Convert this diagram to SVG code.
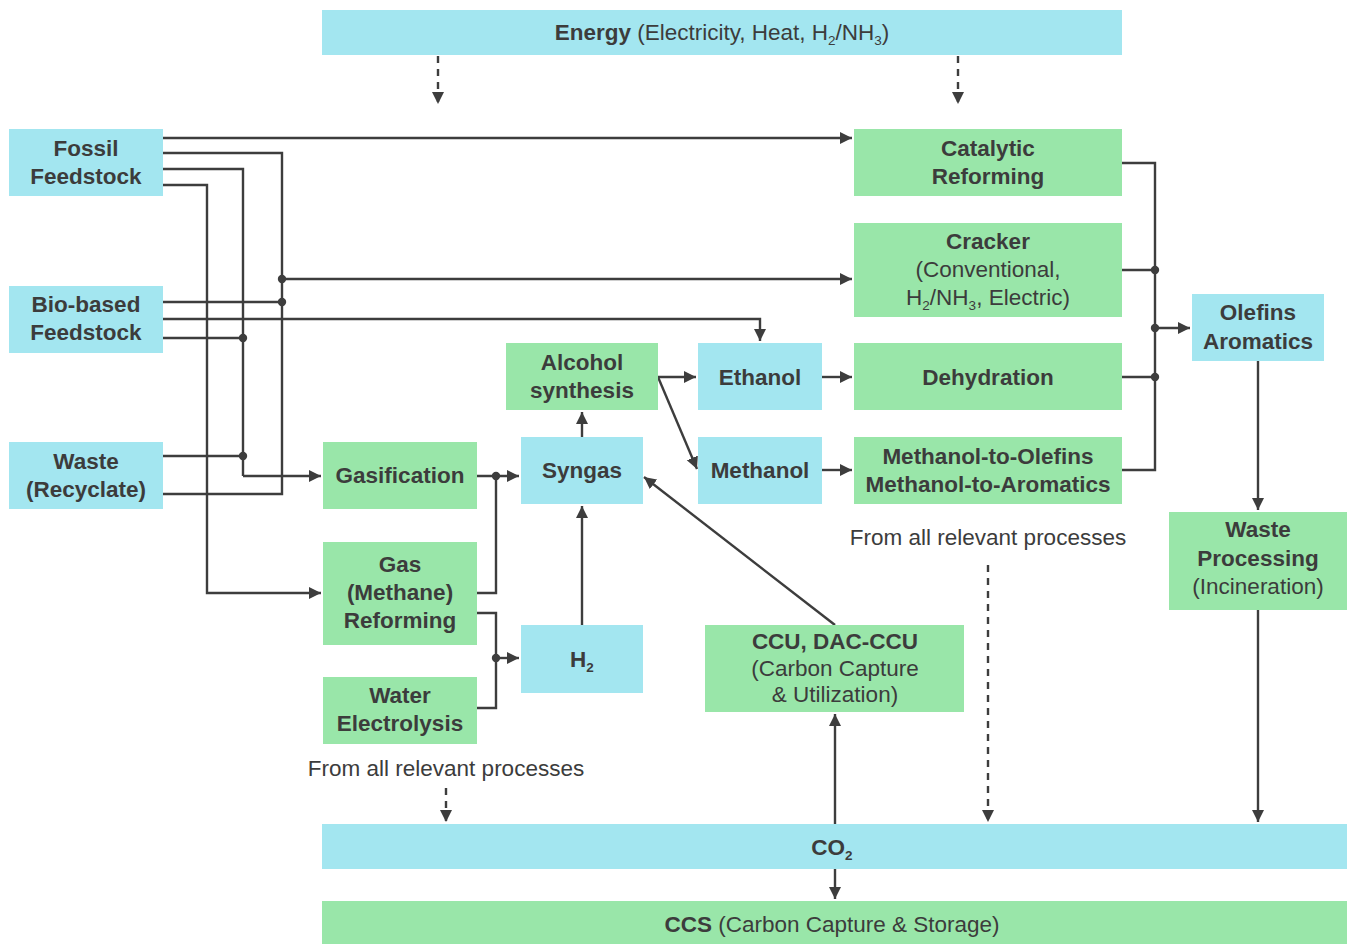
<svg xmlns="http://www.w3.org/2000/svg" width="1349" height="944" viewBox="0 0 1349 944">
<defs>
<marker id="ah" markerUnits="userSpaceOnUse" markerWidth="14" markerHeight="14" refX="12" refY="7" orient="auto"><path d="M0,1 L12,7 L0,13 z" fill="#3d3d3d"/></marker>
<style>
.c{fill:#a3e6f0}.g{fill:#99e6a9}
text{font-family:"Liberation Sans",Arial,sans-serif;fill:#3c3c3c;font-size:22.5px;text-anchor:middle}
.b{font-weight:bold}
.ln{fill:none;stroke:#3d3d3d;stroke-width:2.4}
.ar{marker-end:url(#ah)}
.ds{stroke-dasharray:7,6}
.dot{fill:#3d3d3d}
.sub{font-size:13.5px}
</style>
</defs>
<g id="connectors">
<path class="ln ar" d="M163,138 H852"/>
<path class="ln" d="M163,153 H282 V494 H163"/>
<path class="ln" d="M163,302 H282"/>
<path class="ln ar" d="M282,279 H852"/>
<path class="ln" d="M163,169 H243 V476"/>
<path class="ln" d="M163,338 H243"/>
<path class="ln" d="M163,456 H243"/>
<path class="ln ar" d="M243,476 H321"/>
<path class="ln ar" d="M163,185 H207 V593 H321"/>
<path class="ln ar" d="M163,319 H760 V341"/>
<path class="ln ar" d="M477,476 H519"/>
<path class="ln" d="M477,593 H496 V476"/>
<path class="ln" d="M477,613 H496 V708 H477"/>
<path class="ln ar" d="M496,658 H519"/>
<path class="ln ar" d="M582,625 V506"/>
<path class="ln ar" d="M582,437 V412"/>
<path class="ln ar" d="M658,377 H696"/>
<path class="ln ar" d="M658,377 L697,469"/>
<path class="ln ar" d="M822,377 H852"/>
<path class="ln ar" d="M822,470 H852"/>
<path class="ln" d="M1122,163 H1155 V470 H1122"/>
<path class="ln" d="M1122,270 H1155"/>
<path class="ln" d="M1122,377 H1155"/>
<path class="ln ar" d="M1155,328 H1190"/>
<path class="ln ar" d="M1258,361 V510"/>
<path class="ln ar" d="M1258,610 V822"/>
<path class="ln ar" d="M835,625 L644,477"/>
<path class="ln ar" d="M835,824 V714"/>
<path class="ln ar" d="M835,869 V899"/>
<path class="ln ar ds" d="M438,56 V104"/>
<path class="ln ar ds" d="M958,56 V104"/>
<path class="ln ar ds" d="M988,565 V822"/>
<path class="ln ar ds" d="M446,788 V822"/>
<circle class="dot" cx="282" cy="279" r="4.2"/>
<circle class="dot" cx="282" cy="302" r="4.2"/>
<circle class="dot" cx="243" cy="338" r="4.2"/>
<circle class="dot" cx="243" cy="456" r="4.2"/>
<circle class="dot" cx="496" cy="476" r="4.2"/>
<circle class="dot" cx="496" cy="658" r="4.2"/>
<circle class="dot" cx="1155" cy="270" r="4.2"/>
<circle class="dot" cx="1155" cy="328" r="4.2"/>
<circle class="dot" cx="1155" cy="377" r="4.2"/>
</g>
<g id="energy"><rect class="c" x="322" y="10" width="800" height="45"/><text x="722" y="40"><tspan class="b">Energy</tspan> (Electricity, Heat, H<tspan class="sub" dy="5">2</tspan><tspan dy="-5">/NH</tspan><tspan class="sub" dy="5">3</tspan><tspan dy="-5">)</tspan></text></g>
<g id="fossil"><rect class="c" x="9" y="129" width="154" height="67"/><text class="b" x="86" y="156">Fossil</text><text class="b" x="86" y="184">Feedstock</text></g>
<g id="bio"><rect class="c" x="9" y="286" width="154" height="67"/><text class="b" x="86" y="312">Bio-based</text><text class="b" x="86" y="340">Feedstock</text></g>
<g id="waste"><rect class="c" x="9" y="442" width="154" height="67"/><text class="b" x="86" y="469">Waste</text><text class="b" x="86" y="497">(Recyclate)</text></g>
<g id="catalytic"><rect class="g" x="854" y="129" width="268" height="67"/><text class="b" x="988" y="156">Catalytic</text><text class="b" x="988" y="184">Reforming</text></g>
<g id="cracker"><rect class="g" x="854" y="223" width="268" height="94"/><text class="b" x="988" y="249">Cracker</text><text x="988" y="277">(Conventional,</text><text x="988" y="305">H<tspan class="sub" dy="5">2</tspan><tspan dy="-5">/NH</tspan><tspan class="sub" dy="5">3</tspan><tspan dy="-5">, Electric)</tspan></text></g>
<g id="olefins"><rect class="c" x="1192" y="294" width="132" height="67"/><text class="b" x="1258" y="320">Olefins</text><text class="b" x="1258" y="349">Aromatics</text></g>
<g id="alcohol"><rect class="g" x="506" y="343" width="152" height="67"/><text class="b" x="582" y="370">Alcohol</text><text class="b" x="582" y="398">synthesis</text></g>
<g id="ethanol"><rect class="c" x="698" y="343" width="124" height="67"/><text class="b" x="760" y="385">Ethanol</text></g>
<g id="dehydration"><rect class="g" x="854" y="343" width="268" height="67"/><text class="b" x="988" y="385">Dehydration</text></g>
<g id="gasification"><rect class="g" x="323" y="442" width="154" height="67"/><text class="b" x="400" y="483">Gasification</text></g>
<g id="syngas"><rect class="c" x="521" y="437" width="122" height="67"/><text class="b" x="582" y="478">Syngas</text></g>
<g id="methanol"><rect class="c" x="698" y="437" width="124" height="67"/><text class="b" x="760" y="478">Methanol</text></g>
<g id="mto"><rect class="g" x="854" y="437" width="268" height="67"/><text class="b" x="988" y="464">Methanol-to-Olefins</text><text class="b" x="988" y="492">Methanol-to-Aromatics</text></g>
<g id="label-right"><text x="988" y="545">From all relevant processes</text></g>
<g id="wasteproc"><rect class="g" x="1169" y="512" width="178" height="98"/><text class="b" x="1258" y="537">Waste</text><text class="b" x="1258" y="566">Processing</text><text x="1258" y="594">(Incineration)</text></g>
<g id="gasreforming"><rect class="g" x="323" y="542" width="154" height="103"/><text class="b" x="400" y="572">Gas</text><text class="b" x="400" y="600">(Methane)</text><text class="b" x="400" y="628">Reforming</text></g>
<g id="electrolysis"><rect class="g" x="323" y="677" width="154" height="67"/><text class="b" x="400" y="703">Water</text><text class="b" x="400" y="731">Electrolysis</text></g>
<g id="h2"><rect class="c" x="521" y="625" width="122" height="68"/><text class="b" x="582" y="667">H<tspan class="sub" dy="5">2</tspan></text></g>
<g id="ccu"><rect class="g" x="705" y="625" width="259" height="87"/><text class="b" x="835" y="649">CCU, DAC-CCU</text><text x="835" y="676">(Carbon Capture</text><text x="835" y="702">&amp; Utilization)</text></g>
<g id="label-left"><text x="446" y="776">From all relevant processes</text></g>
<g id="co2"><rect class="c" x="322" y="824" width="1025" height="45"/><text class="b" x="832" y="855">CO<tspan class="sub" dy="5">2</tspan></text></g>
<g id="ccs"><rect class="g" x="322" y="901" width="1025" height="43"/><text x="832" y="932"><tspan class="b">CCS</tspan> (Carbon Capture &amp; Storage)</text></g>
</svg>
